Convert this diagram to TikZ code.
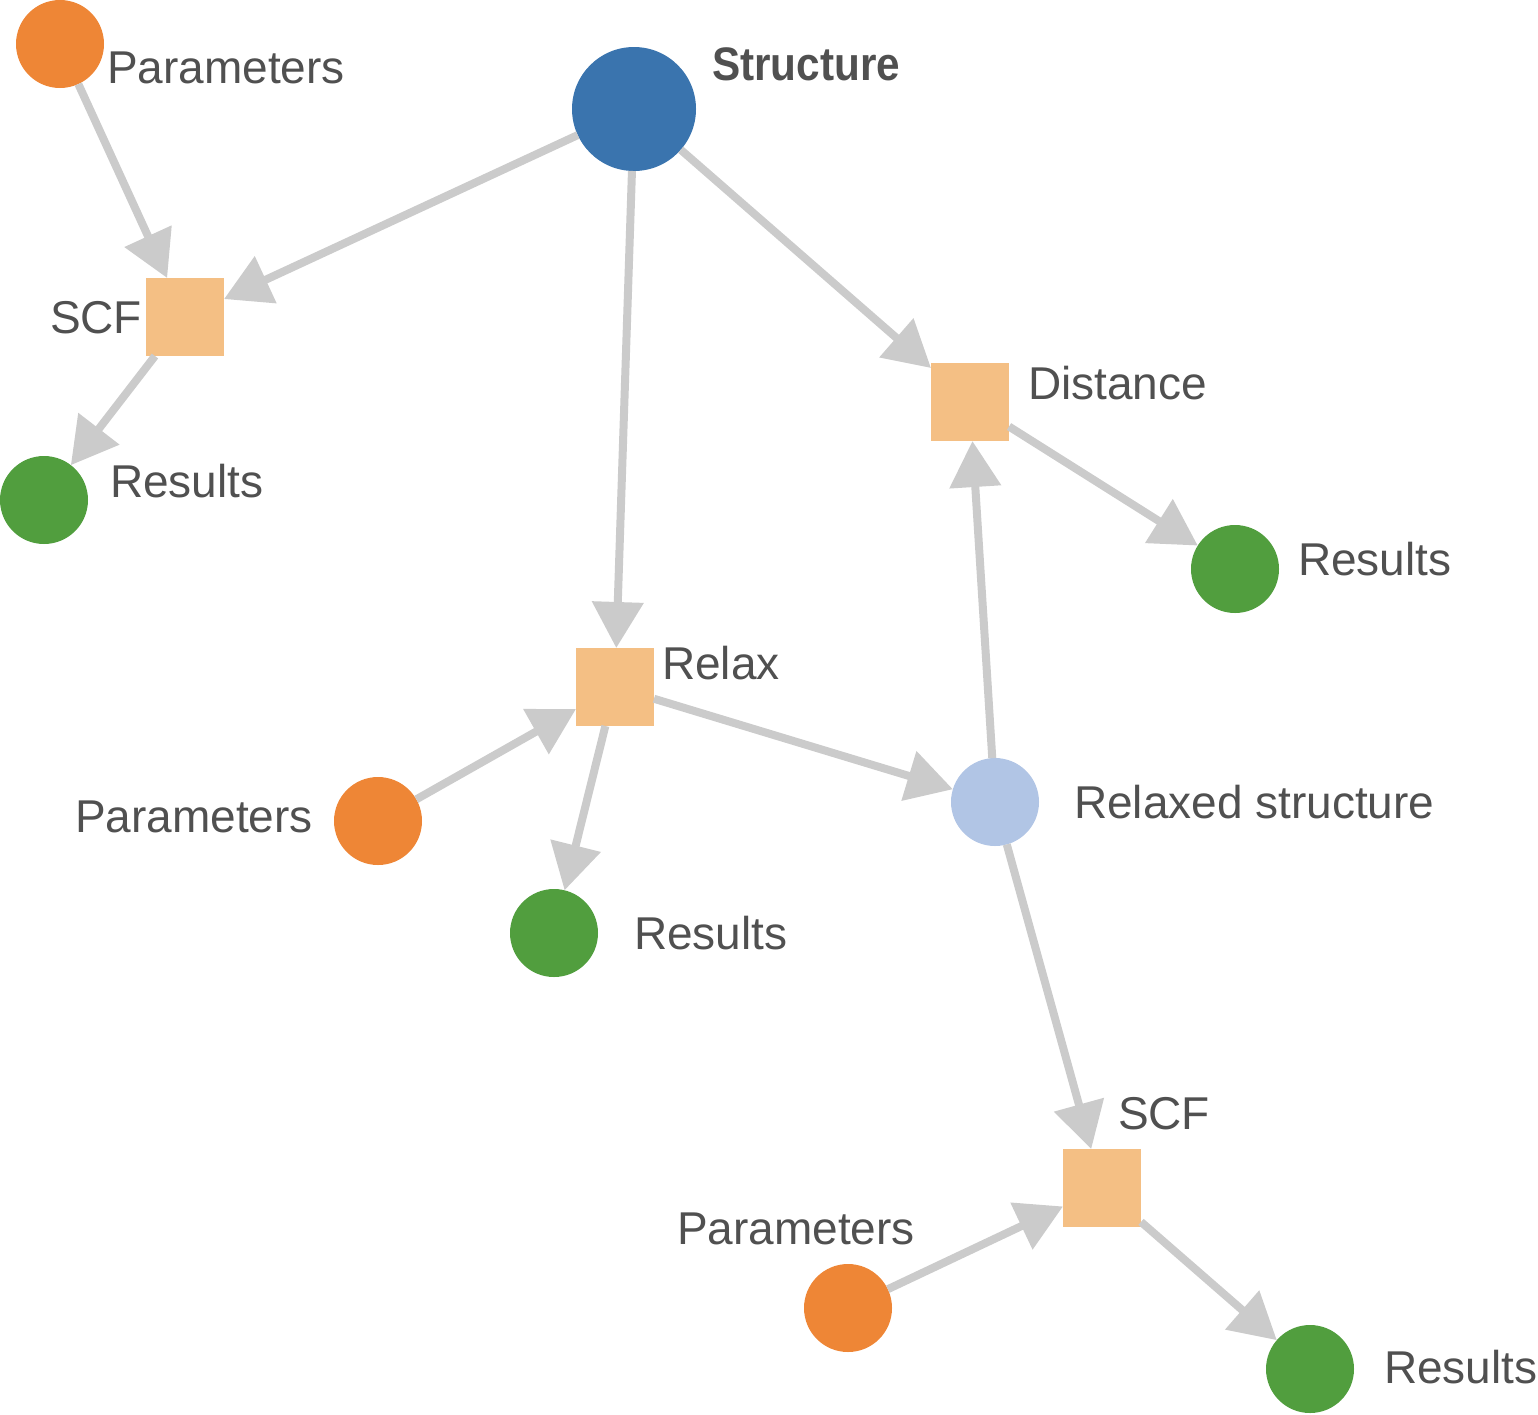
\documentclass[tikz,border=0pt]{standalone}
\usepackage{fontspec}
\setmainfont{Liberation Sans}
\usetikzlibrary{arrows.meta}
\definecolor{edgegray}{HTML}{CBCBCB}
\definecolor{sqorange}{HTML}{F4BF84}
\definecolor{dotorange}{HTML}{EE8636}
\definecolor{dotblue}{HTML}{3A74AE}
\definecolor{dotgreen}{HTML}{519E3E}
\definecolor{dotlight}{HTML}{B1C5E5}
\definecolor{txtgray}{HTML}{505050}
\tikzset{
  proc/.style={rectangle, fill=sqorange, minimum size=78pt, inner sep=0pt, outer sep=0pt},
  dot/.style={circle, minimum size=88pt, inner sep=0pt, outer sep=0pt},
  param/.style={dot, fill=dotorange},
  res/.style={dot, fill=dotgreen},
  lbl/.style={inner sep=0pt, outer sep=0pt, text=txtgray, font=\fontsize{46pt}{50pt}\selectfont, anchor=base west},
  conn/.style={draw=edgegray, line width=8pt, -{Triangle[length=46pt, width=50pt]}, fill=edgegray}
}
\begin{document}
\begin{tikzpicture}[x=1pt, y=-1pt]
\useasboundingbox (0,0) rectangle (1538,1414);
% nodes
\node[dot, fill=dotblue, minimum size=124pt] (struct) at (634,109) {};
\node[param] (p1) at (60,44) {};
\node[proc] (scf1) at (185,317) {};
\node[res] (r1) at (44,500) {};
\node[proc] (dist) at (970,402) {};
\node[res] (r2) at (1235,569) {};
\node[proc] (relax) at (615,687) {};
\node[param] (p2) at (378,821) {};
\node[res] (r3) at (554,933) {};
\node[dot, fill=dotlight] (relaxed) at (995,802) {};
\node[proc] (scf2) at (1102,1188) {};
\node[param] (p3) at (848,1308) {};
\node[res] (r4) at (1310,1369) {};
% labels
\node[lbl] (lp1) at (107,83) {Parameters};
\node[lbl, font=\fontsize{47pt}{50pt}\selectfont\bfseries] (lstruct) at (712,80) {\scalebox{0.9}[1]{Structure}};
\node[lbl, anchor=base east] (lscf1) at (142,333) {SCF};
\node[lbl] (lr1) at (110,497) {Results};
\node[lbl] (ldist) at (1028,399) {Distance};
\node[lbl] (lr2) at (1298,575) {Results};
\node[lbl] (lrelax) at (662,679) {Relax};
\node[lbl] (lp2) at (75,832) {Parameters};
\node[lbl] (lr3) at (634,949) {Results};
\node[lbl] (lrelaxed) at (1074,818) {Relaxed structure};
\node[lbl] (lscf2) at (1118,1129) {SCF};
\node[lbl] (lp3) at (677,1244) {Parameters};
\node[lbl] (lr4) at (1384,1383) {Results};
% connectors
\draw[conn] (p1) -- (scf1);
\draw[conn] (struct) -- (scf1);
\draw[conn] (scf1) -- (r1);
\draw[conn] (struct) -- (relax);
\draw[conn] (struct) -- (dist);
\draw[conn] (dist) -- (r2);
\draw[conn] (relaxed) -- (dist);
\draw[conn] (relax) -- (relaxed);
\draw[conn] (p2) -- (relax);
\draw[conn] (relax) -- (r3);
\draw[conn] (relaxed) -- (scf2);
\draw[conn] (p3) -- (scf2);
\draw[conn] (scf2) -- (r4);
\end{tikzpicture}
\end{document}
